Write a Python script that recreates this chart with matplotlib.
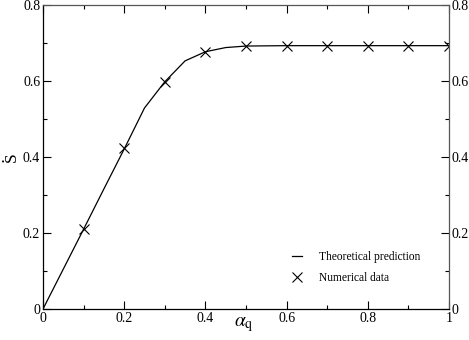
import matplotlib
matplotlib.use("Agg")
import matplotlib.pyplot as plt
from matplotlib.ticker import MultipleLocator

# theoretical curve (piecewise linear as drawn)
theory_alpha = [0.0, 0.05, 0.1, 0.15, 0.2, 0.25, 0.3, 0.35, 0.4, 0.45, 0.5, 0.6, 0.7, 0.8, 0.9, 1.0]
theory_sdot = [0.0, 0.105, 0.21, 0.316, 0.421, 0.529, 0.598, 0.653, 0.677, 0.688, 0.692, 0.693, 0.693, 0.693, 0.693, 0.693]

# numerical points
num_alpha = [0.1, 0.2, 0.3, 0.4, 0.5, 0.6, 0.7, 0.8, 0.9, 1.0]
num_sdot = [0.21, 0.425, 0.597, 0.677, 0.692, 0.693, 0.693, 0.692, 0.692, 0.692]

plt.rcParams['font.family'] = 'serif'
plt.rcParams['font.serif'] = ['Liberation Serif', 'Times New Roman', 'STIXGeneral', 'DejaVu Serif']
plt.rcParams['mathtext.fontset'] = 'stix'

fig = plt.figure(figsize=(4.69, 3.40), dpi=100)
ax = fig.add_axes([43 / 469, 1 - 309 / 340, 406 / 469, 304 / 340])

ax.plot(theory_alpha, theory_sdot, color='black', linewidth=0.9, label='Theoretical prediction')
ax.plot(num_alpha, num_sdot, linestyle='none', marker='x', markersize=6.5, markeredgewidth=0.8,
        color='black', label='Numerical data')

ax.set_xlim(0, 1)
ax.set_ylim(0, 0.8)
ax.xaxis.set_major_locator(MultipleLocator(0.2))
ax.xaxis.set_minor_locator(MultipleLocator(0.1))
ax.yaxis.set_major_locator(MultipleLocator(0.2))
ax.yaxis.set_minor_locator(MultipleLocator(0.1))
ax.xaxis.set_major_formatter(plt.FuncFormatter(lambda v, p: '%g' % v))
ax.yaxis.set_major_formatter(plt.FuncFormatter(lambda v, p: '%g' % v))

ax.tick_params(which='both', direction='in', top=True, right=True, labelright=True,
               labelsize=10, width=0.8, pad=2)
ax.tick_params(which='major', length=6)
ax.tick_params(which='minor', length=3)
for s in ax.spines.values():
    s.set_linewidth(0.9)
ax.spines['top'].set_color('#555555')
ax.spines['right'].set_color('#555555')

ax.set_xlabel(r'$\alpha_{\mathrm{q}}$', fontsize=14)
ax.xaxis.set_label_coords((244 - 43) / 406, -0.02)
ax.set_ylabel('S', fontsize=12.5)
ax.yaxis.set_label_coords((20 - 43) / 406, 0.5)
# dot over S (label is rotated, so the dot sits to its left)
fig.text(4 / 469, 1 - 160 / 340, '\u2022', fontsize=6.5, ha='center', va='center', rotation=90)

ax.legend(loc='upper left', bbox_to_anchor=((292 - 43) / 406, (309 - 251) / 304),
          frameon=False, fontsize=8.3, borderpad=0, borderaxespad=0,
          handlelength=0.9, handletextpad=1.4, labelspacing=0.8)

fig.savefig('out.png', dpi=100)
